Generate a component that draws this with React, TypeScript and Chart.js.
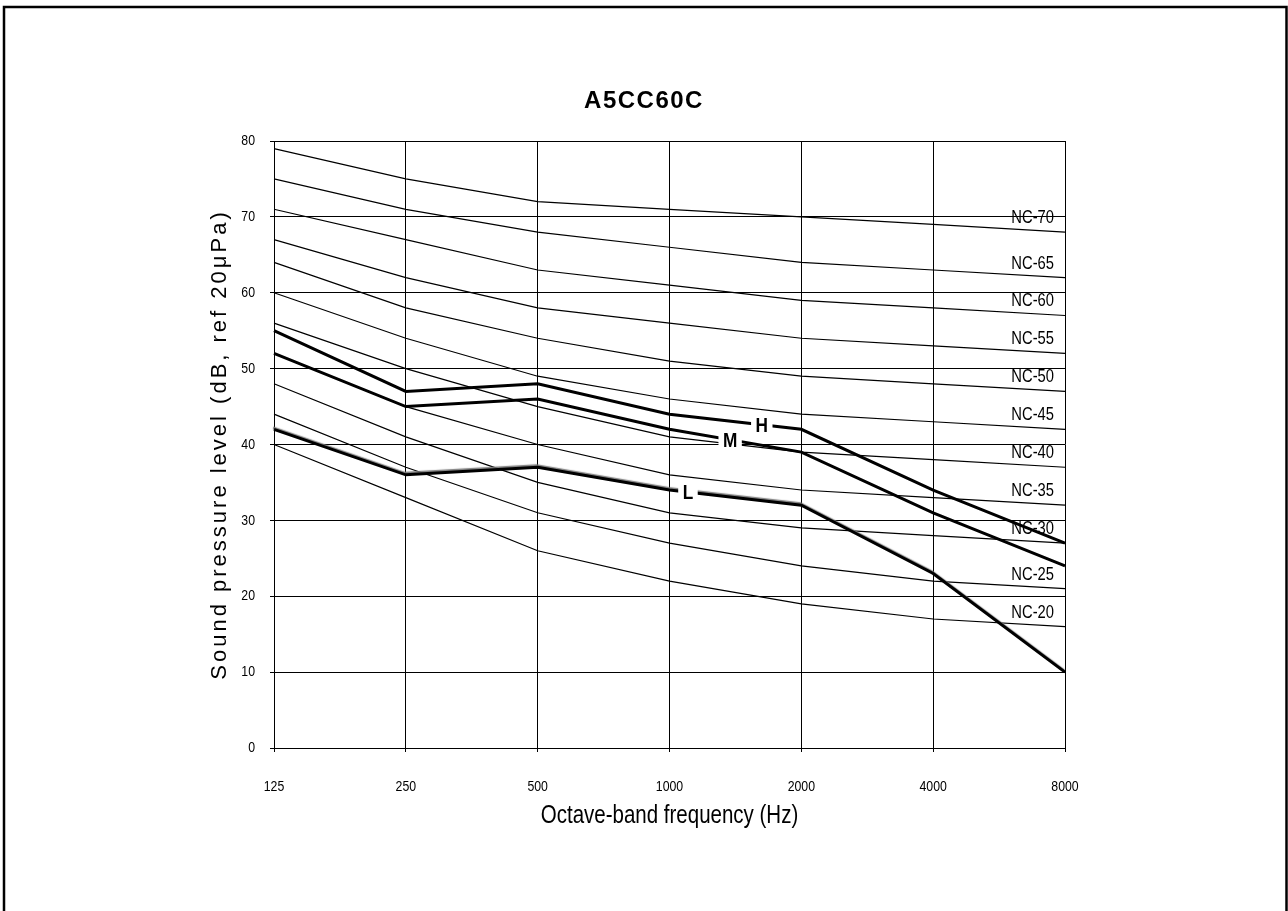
import React, { useEffect, useRef } from "react";
import { Chart, registerables } from "chart.js";

Chart.register(...registerables);

// ---------- data ----------
const frequencies = ["125", "250", "500", "1000", "2000", "4000", "8000"];

const ncNames = ["NC-70", "NC-65", "NC-60", "NC-55", "NC-50", "NC-45", "NC-40", "NC-35", "NC-30", "NC-25", "NC-20"];
const nc70 = [79, 75, 72, 71, 70, 69, 68];
const nc65 = [75, 71, 68, 66, 64, 63, 62];
const nc60 = [71, 67, 63, 61, 59, 58, 57];
const nc55 = [67, 62, 58, 56, 54, 53, 52];
const nc50 = [64, 58, 54, 51, 49, 48, 47];
const nc45 = [60, 54, 49, 46, 44, 43, 42];
const nc40 = [56, 50, 45, 41, 39, 38, 37];
const nc35 = [52, 45, 40, 36, 34, 33, 32];
const nc30 = [48, 41, 35, 31, 29, 28, 27];
const nc25 = [44, 37, 31, 27, 24, 22, 21];
const nc20 = [40, 33, 26, 22, 19, 17, 16];
const ncCurves = [nc70, nc65, nc60, nc55, nc50, nc45, nc40, nc35, nc30, nc25, nc20];

const seriesNames = ["H", "M", "L"];
const seriesH = [55, 47, 48, 44, 42, 34, 27];
const seriesM = [52, 45, 46, 42, 39, 31, 24];
const seriesL = [42, 36, 37, 34, 32, 23, 10];

const yMin = 0;
const yMax = 80;
const yStep = 10;

const chartTitle = "A5CC60C";
const xTitle = "Octave-band frequency (Hz)";
const yTitle = "Sound pressure level (dB, ref 20μPa)";

// label anchors along the line (segment index + fraction)
const seriesLabelAnchor = [3.7, 3.46, 3.14];

const SANS = '"Liberation Sans", Arial, sans-serif';
const NARROW_SCALE = 0.82;

function narrowText(ctx: any, text: string, x: number, y: number, align: string) {
  ctx.save();
  ctx.translate(x, y);
  ctx.scale(NARROW_SCALE, 1);
  ctx.textAlign = align;
  ctx.fillText(text, 0, 0);
  ctx.restore();
}

const decorPlugin = {
  id: "decor",
  beforeDatasetDraw(chart: any, args: any) {
    const ds = chart.data.datasets[args.index];
    if (ds.label === "L") {
      const ctx = chart.ctx;
      ctx.save();
      ctx.shadowColor = "rgba(120,120,120,0.95)";
      ctx.shadowOffsetX = -1;
      ctx.shadowOffsetY = -1.5;
      ctx.shadowBlur = 1;
    }
  },
  afterDatasetDraw(chart: any, args: any) {
    const ds = chart.data.datasets[args.index];
    if (ds.label === "L") {
      chart.ctx.restore();
    }
  },
  afterDatasetsDraw(chart: any) {
    const ctx = chart.ctx;
    const xs = chart.scales.x;
    const ys = chart.scales.y;

    // NC labels
    ctx.save();
    ctx.fillStyle = "#000";
    ctx.font = `18px ${SANS}`;
    ctx.textBaseline = "middle";
    const lastIdx = frequencies.length - 1;
    ncCurves.forEach((curve, i) => {
      const yPix = ys.getPixelForValue(curve[lastIdx]) - 14;
      narrowText(ctx, ncNames[i], xs.getPixelForValue(lastIdx) - 11, yPix, "right");
    });
    ctx.restore();

    // H / M / L labels
    const seriesArr = [seriesH, seriesM, seriesL];
    ctx.save();
    ctx.font = `bold 21px ${SANS}`;
    ctx.textBaseline = "middle";
    seriesArr.forEach((s, i) => {
      const a = seriesLabelAnchor[i];
      const i0 = Math.floor(a);
      const f = a - i0;
      const x0 = xs.getPixelForValue(i0);
      const x1 = xs.getPixelForValue(i0 + 1);
      const y0 = ys.getPixelForValue(s[i0]);
      const y1 = ys.getPixelForValue(s[i0 + 1]);
      const x = x0 + (x1 - x0) * f;
      const y = y0 + (y1 - y0) * f;
      const w = ctx.measureText(seriesNames[i]).width * NARROW_SCALE + 9;
      ctx.fillStyle = "#fff";
      ctx.fillRect(x - w / 2, y - 8, w, 16);
      ctx.fillStyle = "#000";
      narrowText(ctx, seriesNames[i], x, y + 1, "center");
    });
    ctx.restore();
  },
  afterDraw(chart: any) {
    const ctx = chart.ctx;
    const area = chart.chartArea;
    const xs = chart.scales.x;
    const ys = chart.scales.y;
    ctx.save();
    ctx.fillStyle = "#000";

    // tick labels (condensed)
    ctx.font = `15px ${SANS}`;
    ctx.textBaseline = "middle";
    ys.ticks.forEach((t: any) => {
      narrowText(ctx, String(t.value), area.left - 19, ys.getPixelForValue(t.value), "right");
    });
    frequencies.forEach((f, i) => {
      narrowText(ctx, f, xs.getPixelForValue(i), area.bottom + 39, "center");
    });

    // title
    ctx.font = `bold 24px ${SANS}`;
    (ctx as any).letterSpacing = "1.5px";
    ctx.textAlign = "center";
    ctx.fillText(chartTitle, chart.width / 2, 101);
    (ctx as any).letterSpacing = "0px";

    // x title
    ctx.font = `25px ${SANS}`;
    narrowText(ctx, xTitle, (area.left + area.right) / 2, 816, "center");

    // y title
    ctx.save();
    ctx.translate(220, (area.top + area.bottom) / 2);
    ctx.rotate(-Math.PI / 2);
    ctx.font = `22px ${SANS}`;
    (ctx as any).letterSpacing = "3px";
    ctx.textAlign = "center";
    ctx.fillText(yTitle, 0, 0);
    ctx.restore();

    // frame
    ctx.strokeStyle = "#000";
    ctx.lineWidth = 2.5;
    ctx.strokeRect(4, 7, 1282.5, 1000);
    ctx.restore();
  },
};

export default function App() {
  const ref = useRef<HTMLCanvasElement | null>(null);

  useEffect(() => {
    document.body.style.margin = "0";
    if (!ref.current) return;
    const thick = (label: string, data: number[]) => ({
      label,
      data,
      borderColor: "#000",
      borderWidth: 3,
      pointRadius: 0,
      tension: 0,
      fill: false,
    });
    const datasets: any[] = [
      thick("H", seriesH),
      thick("M", seriesM),
      thick("L", seriesL),
      ...ncCurves.map((c, i) => ({
        label: ncNames[i],
        data: c,
        borderColor: "#000",
        borderWidth: 1.2,
        pointRadius: 0,
        tension: 0,
        fill: false,
      })),
    ];
    const chart = new Chart(ref.current, {
      type: "line",
      data: { labels: frequencies, datasets },
      options: {
        responsive: false,
        animation: false,
        layout: { padding: { top: 141, right: 223, left: 0, bottom: 0 } },
        plugins: {
          legend: { display: false },
          title: { display: false },
          tooltip: { enabled: false },
        },
        scales: {
          x: {
            type: "category",
            offset: false,
            afterFit: (s: any) => {
              s.height = 163;
            },
            grid: { color: "#000", lineWidth: 1, tickLength: 4, drawTicks: true },
            border: { color: "#000", width: 1 },
            ticks: { display: false, autoSkip: false, maxRotation: 0 },
          },
          y: {
            min: yMin,
            max: yMax,
            afterFit: (s: any) => {
              s.width = 274;
            },
            grid: { color: "#000", lineWidth: 1, tickLength: 4, drawTicks: true },
            border: { color: "#000", width: 1 },
            ticks: { display: false, stepSize: yStep },
          },
        },
      },
      plugins: [decorPlugin],
    });
    return () => chart.destroy();
  }, []);

  return (
    <div style={{ width: 1288, height: 911 }}>
      <canvas ref={ref} width={1288} height={911} style={{ display: "block" }} />
    </div>
  );
}
